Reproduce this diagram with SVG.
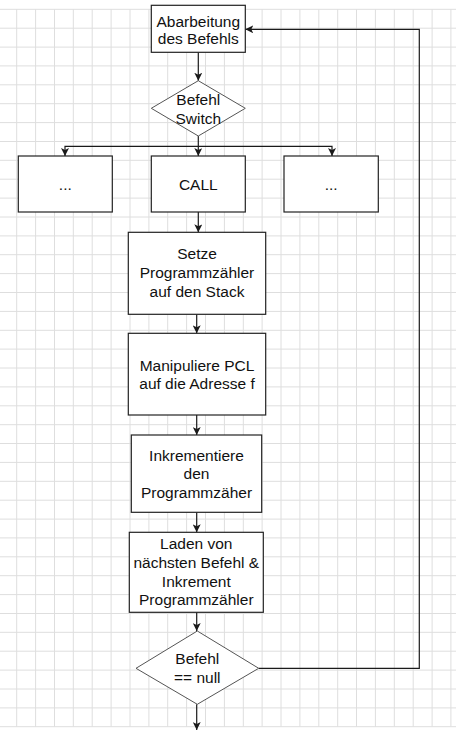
<svg xmlns="http://www.w3.org/2000/svg" width="456" height="739" viewBox="0 0 456 739">
<style>
.grid{stroke:#dedede;stroke-width:1;fill:none}
.box{fill:#fff;stroke:#222;stroke-width:1.2}
.dia{fill:#fff;stroke:#555;stroke-width:1}
.t{font-family:"Liberation Sans",Arial,sans-serif;font-size:15.5px;fill:#111;text-anchor:middle}
.edge{stroke:#1a1a1a;stroke-width:1.2;fill:none}
</style>
<defs>
<marker id="arr" viewBox="0 0 8 8" refX="8" refY="4" markerWidth="8" markerHeight="8" orient="auto" markerUnits="userSpaceOnUse">
<path d="M0,0 L8,4 L0,8 L2,4 Z" fill="#1a1a1a"/>
</marker>
</defs>
<rect width="456" height="739" fill="#fff"/>
<g id="grid" class="grid">
<path d="M16.7 9.3V726.7M35.6 9.3V726.7M54.5 9.3V726.7M73.3 9.3V726.7M92.2 9.3V726.7M111.1 9.3V726.7M130 9.3V726.7M148.9 9.3V726.7M167.7 9.3V726.7M186.6 9.3V726.7M205.5 9.3V726.7M224.4 9.3V726.7M243.3 9.3V726.7M262.1 9.3V726.7M281 9.3V726.7M299.9 9.3V726.7M318.8 9.3V726.7M337.7 9.3V726.7M356.5 9.3V726.7M375.4 9.3V726.7M394.3 9.3V726.7M413.2 9.3V726.7M432.1 9.3V726.7M450.9 9.3V726.7"/>
<path d="M0 9.3H456M0 28.2H456M0 47.1H456M0 65.9H456M0 84.8H456M0 103.7H456M0 122.6H456M0 141.5H456M0 160.3H456M0 179.2H456M0 198.1H456M0 217H456M0 235.9H456M0 254.7H456M0 273.6H456M0 292.5H456M0 311.4H456M0 330.3H456M0 349.1H456M0 368H456M0 386.9H456M0 405.8H456M0 424.7H456M0 443.5H456M0 462.4H456M0 481.3H456M0 500.2H456M0 519.1H456M0 537.9H456M0 556.8H456M0 575.7H456M0 594.6H456M0 613.5H456M0 632.3H456M0 651.2H456M0 670.1H456M0 689H456M0 707.9H456M0 726.7H456"/>
</g>
<g id="connectors">
<path class="edge" d="M198.3 52.3V80.7" marker-end="url(#arr)"/>
<path class="edge" d="M198.3 136V156" marker-end="url(#arr)"/>
<path class="edge" d="M198.3 146.3H65V156" marker-end="url(#arr)"/>
<path class="edge" d="M198.3 146.3H332V156" marker-end="url(#arr)"/>
<path class="edge" d="M198.3 212V232.3" marker-end="url(#arr)"/>
<path class="edge" d="M196.7 314.3V333.3" marker-end="url(#arr)"/>
<path class="edge" d="M196.7 415V435" marker-end="url(#arr)"/>
<path class="edge" d="M196.7 512.3V532.3" marker-end="url(#arr)"/>
<path class="edge" d="M196.7 612.3V631" marker-end="url(#arr)"/>
<path class="edge" d="M196.7 704.3V730" marker-end="url(#arr)"/>
<path class="edge" d="M258.7 668.3H419.3V29.3H245.3" marker-end="url(#arr)"/>
</g>
<g id="n1">
<rect class="box" x="151.3" y="5.3" width="94" height="47"/>
<text class="t" x="198.3" y="26.5">Abarbeitung</text>
<text class="t" x="198.3" y="44">des Befehls</text>
</g>
<g id="n2">
<path class="dia" d="M198.3 80.7L245.3 108.3L198.3 136L151.3 108.3Z"/>
<text class="t" x="198.3" y="105">Befehl</text>
<text class="t" x="198.3" y="123.5">Switch</text>
</g>
<g id="n3">
<rect class="box" x="18.3" y="156" width="94" height="56"/>
<text class="t" x="65.3" y="189.5">...</text>
</g>
<g id="n4">
<rect class="box" x="151.3" y="156" width="94" height="56"/>
<text class="t" x="198.3" y="190">CALL</text>
</g>
<g id="n5">
<rect class="box" x="284" y="156" width="94.3" height="56"/>
<text class="t" x="331.2" y="189.5">...</text>
</g>
<g id="n6">
<rect class="box" x="128.3" y="232.3" width="137.4" height="82"/>
<text class="t" x="197" y="259.3">Setze</text>
<text class="t" x="197" y="278.3">Programmzähler</text>
<text class="t" x="197" y="296.7">auf den Stack</text>
</g>
<g id="n7">
<rect class="box" x="128.3" y="333.3" width="137.4" height="81.7"/>
<text class="t" x="197" y="370.5">Manipuliere PCL</text>
<text class="t" x="197" y="388.5">auf die Adresse f</text>
</g>
<g id="n8">
<rect class="box" x="131.3" y="435" width="130.4" height="77.3"/>
<text class="t" x="196.5" y="460.7">Inkrementiere</text>
<text class="t" x="196.5" y="479.3">den</text>
<text class="t" x="196.5" y="498.3">Programmzäher</text>
</g>
<g id="n9">
<rect class="box" x="129.3" y="532.3" width="134" height="80"/>
<text class="t" x="196.3" y="549.3">Laden von</text>
<text class="t" x="196.3" y="567.7">nächsten Befehl &amp;</text>
<text class="t" x="196.3" y="586.5">Inkrement</text>
<text class="t" x="196.3" y="605">Programmzähler</text>
</g>
<g id="n10">
<path class="dia" d="M197.3 631L258.7 668.3L197.3 704.3L136 668.3Z"/>
<text class="t" x="197.3" y="664.3">Befehl</text>
<text class="t" x="197.3" y="682.7">== null</text>
</g>
</svg>
